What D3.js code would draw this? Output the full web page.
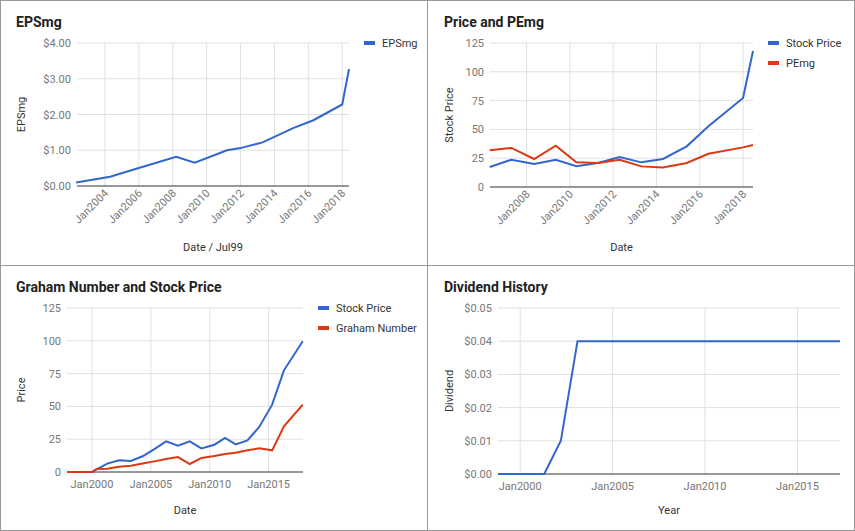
<!DOCTYPE html>
<html><head><meta charset="utf-8">
<script src="https://cdn.jsdelivr.net/npm/d3@7"></script>
<style>body{margin:0;background:#fff}text{font-family:Roboto,Arial,sans-serif}</style>
</head><body><svg id="c" width="855" height="531"></svg>
<script>
// EPSmg
const epsYears = [2002.3, 2004.3, 2005.9, 2008.2, 2009.3, 2011.2, 2012.0, 2013.3, 2015.1, 2016.3, 2018.0, 2018.4];
const epsValues = [0.10, 0.26, 0.49, 0.82, 0.65, 1.00, 1.06, 1.22, 1.62, 1.84, 2.28, 3.27];
// Price and PEmg
const pYears = [2006.3, 2007.3, 2008.35, 2009.35, 2010.3, 2011.3, 2012.3, 2013.3, 2014.3, 2015.4, 2016.4, 2018.0, 2018.46];
const pPrice = [17.4, 23.7, 20, 23.7, 18, 20.8, 26, 21.4, 24.3, 35.3, 52.7, 77.3, 118];
const pPEmg = [31.8, 33.9, 24.3, 35.9, 21.4, 20.8, 23.7, 17.9, 17, 20.8, 28.9, 34.4, 36.5];
// Graham
const gYears = [1997.9, 2000.0, 2000.4, 2001.3, 2002.3, 2003.3, 2004.3, 2005.3, 2006.3, 2007.3, 2008.3, 2009.3, 2010.4, 2011.3, 2012.2, 2013.2, 2014.2, 2015.3, 2016.3, 2017.9];
const gPrice = [0, 0, 2, 6.4, 8.9, 8.4, 12, 17.5, 23.4, 20, 23.4, 18, 20.8, 26, 21, 24.1, 34.3, 51.3, 77.5, 99.6];
const gGraham = [0, 0, 2.3, 2.5, 4, 4.8, 6.4, 8.1, 9.9, 11.4, 6.1, 10.7, 12.2, 13.7, 14.7, 16.5, 18, 16.5, 34.8, 51.3];
// Dividend
const dYears = [1998.8, 2001.3, 2002.2, 2003.1, 2017.3];
const dValues = [0, 0, 0.01, 0.04, 0.04];

const BLUE = "#3366cc", RED = "#dc3912";
const svg = d3.select("#c");

function panel(o) {
  const g = svg.append("g");
  g.append("text").attr("x", o.px + 16).attr("y", o.py + 27).attr("font-size", 14)
    .attr("font-weight", "bold").attr("fill", "#222").text(o.title);
  const x = d3.scaleLinear().domain(o.xd).range([o.l, o.r]);
  const y = d3.scaleLinear().domain(o.yd).range([o.b, o.t]);
  g.selectAll(".vg").data(o.xt).join("line")
    .attr("x1", d => x(d)).attr("x2", d => x(d)).attr("y1", o.t).attr("y2", o.b)
    .attr("stroke", "#e0e0e0");
  g.selectAll(".hg").data(o.yt).join("line")
    .attr("x1", o.l).attr("x2", o.r).attr("y1", d => y(d)).attr("y2", d => y(d))
    .attr("stroke", d => d === 0 ? "#333" : "#e0e0e0");
  g.selectAll(".yl").data(o.yt).join("text")
    .attr("x", o.l - 6).attr("y", d => y(d) + 4).attr("text-anchor", "end")
    .attr("font-size", 11).attr("fill", "#777").text(o.yf);
  if (o.rot) {
    g.selectAll(".xl").data(o.xt).join("text")
      .attr("transform", d => `translate(${x(d) + 4},${o.b + 8}) rotate(-45)`)
      .attr("text-anchor", "end").attr("font-size", 11).attr("fill", "#777")
      .text(d => "Jan" + d);
  } else {
    g.selectAll(".xl").data(o.xt).join("text")
      .attr("x", d => x(d)).attr("y", o.b + 16).attr("text-anchor", "middle")
      .attr("font-size", 11).attr("fill", "#777").text(d => "Jan" + d);
  }
  g.append("text").attr("x", (o.l + o.r) / 2).attr("y", o.xty).attr("text-anchor", "middle")
    .attr("font-size", 11).attr("fill", "#333").text(o.xlab);
  g.append("text").attr("transform", `translate(${o.px + 25},${(o.t + o.b) / 2}) rotate(-90)`)
    .attr("text-anchor", "middle").attr("font-size", 11).attr("fill", "#333").text(o.ylab);
  const line = d3.line().x(d => x(d[0])).y(d => y(d[1]));
  o.series.forEach((s, i) => {
    g.append("path").attr("d", line(o.xs.map((v, j) => [v, s.v[j]])))
      .attr("fill", "none").attr("stroke", s.c).attr("stroke-width", 2);
    if (s.name) {
      const ly = o.t + i * 20;
      g.append("line").attr("x1", o.lx).attr("x2", o.lx + 11).attr("y1", ly).attr("y2", ly)
        .attr("stroke", s.c).attr("stroke-width", 4);
      g.append("text").attr("x", o.lx + 18).attr("y", ly + 4).attr("font-size", 11)
        .attr("fill", "#333").text(s.name);
    }
  });
}

panel({px: 0, py: 0, title: "EPSmg", l: 77, r: 349, t: 43, b: 186,
  xd: [2002.35, 2018.4], yd: [0, 4], xt: [2004, 2006, 2008, 2010, 2012, 2014, 2016, 2018],
  yt: [0, 1, 2, 3, 4], yf: d => "$" + d.toFixed(2), rot: true, xlab: "Date / Jul99", xty: 251,
  ylab: "EPSmg", xs: epsYears, lx: 364, series: [{v: epsValues, c: BLUE, name: "EPSmg"}]});

panel({px: 428, py: 0, title: "Price and PEmg", l: 490, r: 753, t: 43, b: 187,
  xd: [2006.31, 2018.46], yd: [0, 125], xt: [2008, 2010, 2012, 2014, 2016, 2018],
  yt: [0, 25, 50, 75, 100, 125], yf: d => d, rot: true, xlab: "Date", xty: 251,
  ylab: "Stock Price", xs: pYears, lx: 768,
  series: [{v: pPrice, c: BLUE, name: "Stock Price"}, {v: pPEmg, c: RED, name: "PEmg"}]});

panel({px: 0, py: 265, title: "Graham Number and Stock Price", l: 67, r: 303, t: 308, b: 472,
  xd: [1997.88, 2017.92], yd: [0, 125], xt: [2000, 2005, 2010, 2015],
  yt: [0, 25, 50, 75, 100, 125], yf: d => d, rot: false, xlab: "Date", xty: 514,
  ylab: "Price", xs: gYears, lx: 318,
  series: [{v: gPrice, c: BLUE, name: "Stock Price"}, {v: gGraham, c: RED, name: "Graham Number"}]});

panel({px: 428, py: 265, title: "Dividend History", l: 498, r: 840, t: 308, b: 474,
  xd: [1998.8, 2017.3], yd: [0, 0.05], xt: [2000, 2005, 2010, 2015],
  yt: [0, 0.01, 0.02, 0.03, 0.04, 0.05], yf: d => "$" + d.toFixed(2), rot: false, xlab: "Year", xty: 514,
  ylab: "Dividend", xs: dYears, lx: 0, series: [{v: dValues, c: BLUE}]});

// panel borders
[[0.5, 0.5, 854, 530]].forEach(r => svg.append("rect").attr("x", r[0]).attr("y", r[1])
  .attr("width", r[2]).attr("height", r[3]).attr("fill", "none").attr("stroke", "#999"));
svg.append("line").attr("x1", 427.5).attr("x2", 427.5).attr("y1", 0).attr("y2", 531).attr("stroke", "#999");
svg.append("line").attr("x1", 0).attr("x2", 855).attr("y1", 265.5).attr("y2", 265.5).attr("stroke", "#999");
</script></body></html>
